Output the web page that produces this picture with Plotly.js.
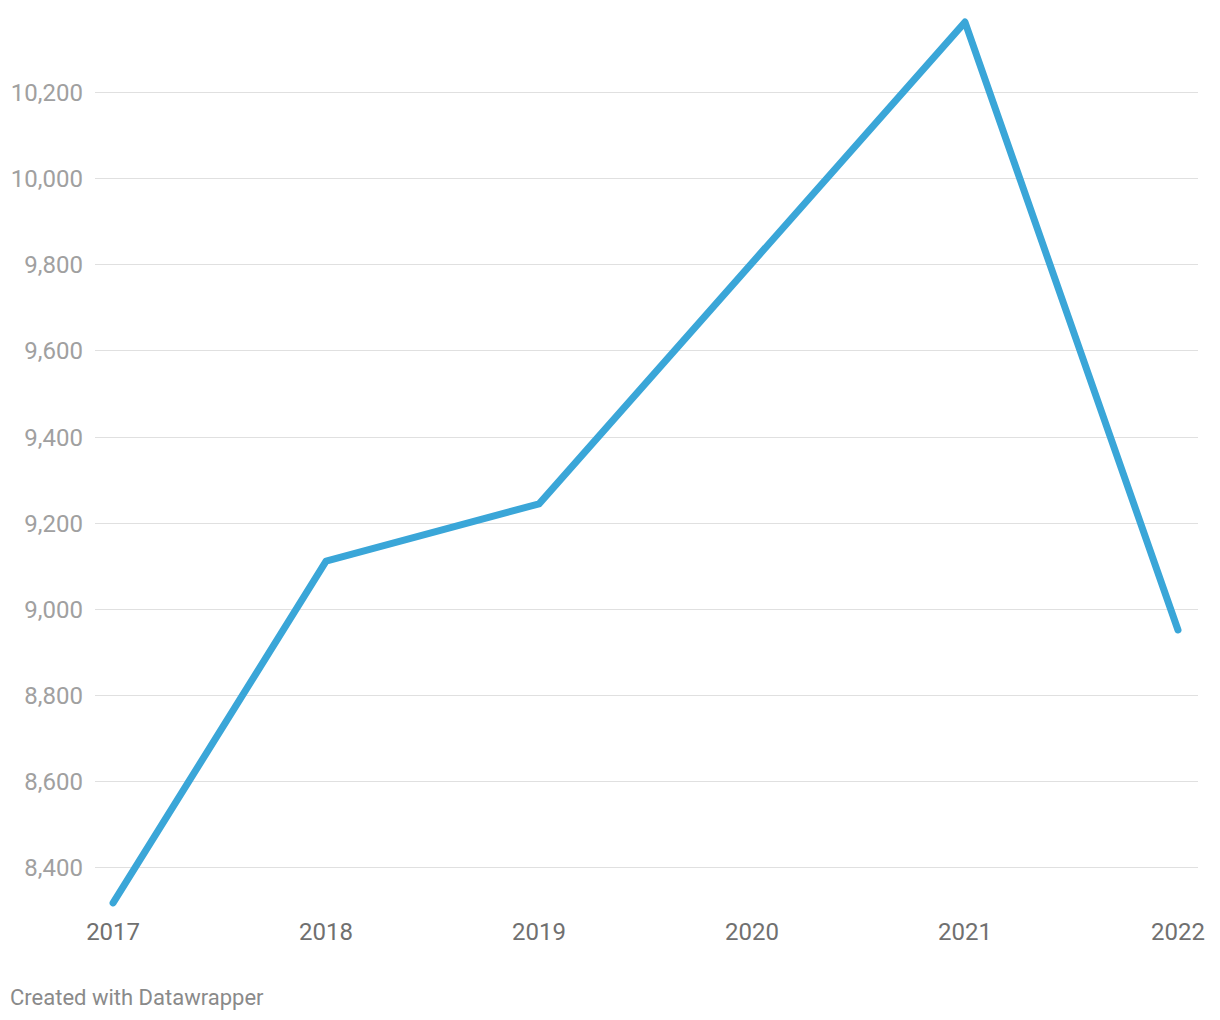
<!DOCTYPE html>
<html>
<head>
<meta charset="utf-8">
<script src="https://cdn.plot.ly/plotly-3.0.1.min.js"></script>
<style>
  html, body { margin: 0; padding: 0; background: #fff; }
  #chart { width: 1220px; height: 1020px; }
  #chart .js-line { stroke-linecap: round; stroke-linejoin: round; }
</style>
</head>
<body>
<div id="chart"></div>
<script>
const YEARS = [2017, 2018, 2019, 2020, 2021, 2022];
const VALUES = [8318, 9112, 9245, 9805, 10364, 8952];
const Y_TICKS = [8400, 8600, 8800, 9000, 9200, 9400, 9600, 9800, 10000, 10200];

const LINE_COLOR = '#3aa6d8';

const trace = {
  x: YEARS,
  y: VALUES,
  type: 'scatter',
  mode: 'lines',
  line: { color: LINE_COLOR, width: 7 },
  hoverinfo: 'x+y',
};

// plot area padded a little above/below the data so the thick line isn't clipped
const layout = {
  width: 1220,
  height: 1020,
  margin: { l: 95, r: 22, t: 10, b: 105 },
  paper_bgcolor: '#fff',
  plot_bgcolor: '#fff',
  font: { family: 'Roboto, sans-serif' },
  showlegend: false,
  xaxis: {
    range: [2016.915, 2022.094],
    tickvals: YEARS,
    ticktext: YEARS.map(String),
    showgrid: false,
    zeroline: false,
    showline: false,
    ticks: '',
    ticklabelstandoff: 0,
    tickfont: { family: 'Roboto, sans-serif', size: 24, color: '#707070' },
  },
  yaxis: {
    range: [8290, 10392],
    tickvals: Y_TICKS,
    tickformat: ',d',
    showgrid: true,
    gridcolor: '#e0e0e0',
    gridwidth: 1,
    zeroline: false,
    showline: false,
    ticks: '',
    ticklabelstandoff: 11,
    tickfont: { family: 'Roboto, sans-serif', size: 24, color: '#a0a0a0' },
  },
  annotations: [{
    text: 'Created with Datawrapper',
    xref: 'paper', yref: 'paper',
    x: 0, y: 0, xanchor: 'left', yanchor: 'middle',
    xshift: -87, yshift: -82,
    showarrow: false,
    font: { family: 'Roboto, sans-serif', size: 22, color: '#8a8a8a' },
  }],
};

Plotly.newPlot('chart', [trace], layout, { displayModeBar: false, responsive: false });
</script>
</body>
</html>
